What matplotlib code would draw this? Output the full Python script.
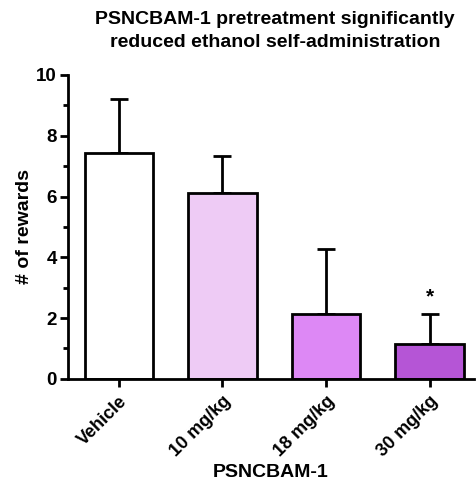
import matplotlib
matplotlib.use("Agg")
import matplotlib.pyplot as plt
from matplotlib.ticker import MultipleLocator

categories = ["Vehicle", "10 mg/kg", "18 mg/kg", "30 mg/kg"]
means = [7.43, 6.13, 2.14, 1.14]
sem = [1.77, 1.19, 2.14, 1.0]
colors = ["#ffffff", "#eecbf5", "#dd88f5", "#b555d6"]
sig = ["", "", "", "*"]

plt.rcParams['font.family'] = ['Liberation Sans', 'DejaVu Sans']
plt.rcParams['font.weight'] = 'bold'

fig = plt.figure(figsize=(4.76, 4.87), dpi=100)
ax = fig.add_axes([0.143, 0.222, 0.853, 0.624])
x = list(range(len(categories)))
lw = 2.0
ax.bar(x, means, width=0.66, color=colors, edgecolor="black", linewidth=lw, zorder=2)
ax.errorbar(x, means, yerr=[[0]*len(sem), sem], fmt='none', ecolor='black',
            elinewidth=lw, capsize=6.5, capthick=lw, zorder=1)
for xi, m, s, t in zip(x, means, sem, sig):
    if t:
        ax.text(xi, m + s + 0.25, t, ha='center', va='bottom', fontsize=15, fontweight='bold')

ax.set_xlim(-0.49, 3.43)
ax.set_ylim(0, 10)
ax.yaxis.set_major_locator(MultipleLocator(2))
ax.yaxis.set_minor_locator(MultipleLocator(1))
ax.set_xticks(x)
ax.set_xticklabels(categories, rotation=45, ha='right', rotation_mode='anchor', fontsize=13, fontweight='bold')
for lab in ax.get_yticklabels():
    lab.set_fontweight('bold')
ax.tick_params(axis='y', labelsize=13.5, width=lw, length=6, direction='out', pad=2)
ax.tick_params(axis='y', which='minor', width=lw, length=3.5)
ax.tick_params(axis='x', width=lw, length=6, direction='out', pad=4)
for s in ['top', 'right']:
    ax.spines[s].set_visible(False)
for s in ['left', 'bottom']:
    ax.spines[s].set_linewidth(lw)
ax.set_ylabel("# of rewards", fontsize=14, fontweight='bold', labelpad=2)
ax.set_xlabel("PSNCBAM-1", fontsize=14, fontweight='bold', labelpad=3)
fig.suptitle("PSNCBAM-1 pretreatment significantly\nreduced ethanol self-administration",
             x=0.578, y=0.977, fontsize=14, fontweight='bold', va='top', linespacing=1.45)
fig.savefig("out.png", dpi=100)
